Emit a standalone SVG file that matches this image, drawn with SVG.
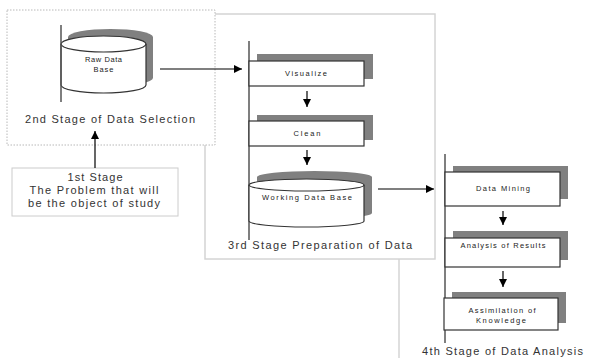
<svg xmlns="http://www.w3.org/2000/svg" width="596" height="358" viewBox="0 0 596 358">
<defs>
<marker id="ah" viewBox="0 0 10 10" refX="10" refY="5" markerWidth="8" markerHeight="8" markerUnits="userSpaceOnUse" orient="auto">
<path d="M0,0 L10,5 L0,10 z" fill="#000"/>
</marker>
<style>
.stage{fill:#fff;stroke:#d4d4d4;stroke-width:1.5}
.dotted{fill:#fff;stroke:#b8b8b8;stroke-width:1;stroke-dasharray:1.5 1.5}
.box{fill:#fff;stroke:#333;stroke-width:1.2}
.shadow{fill:#808080;stroke:none}
.bar{stroke:#555;stroke-width:1.5;fill:none}
.conn{stroke:#000;stroke-width:1.2;fill:none;marker-end:url(#ah)}
.big{font-family:"Liberation Sans",Arial,sans-serif;font-size:11px;fill:#333}
.small{font-family:"Liberation Sans",Arial,sans-serif;font-size:7.5px;fill:#222;text-anchor:middle}
.mid{text-anchor:middle}
</style>
</defs>

<!-- stage frames -->
<g id="stage4">
<path d="M399,250 V358" stroke="#d4d4d4" stroke-width="1.5" fill="none"/>
<text class="big" x="422" y="355" textLength="161" lengthAdjust="spacing">4th Stage of Data Analysis</text>
</g>
<g id="stage3">
<rect class="stage" x="205" y="14" width="230" height="245"/>
<text class="big" x="228" y="249" textLength="184" lengthAdjust="spacing">3rd Stage Preparation of Data</text>
</g>
<g id="stage2">
<rect class="dotted" x="7" y="10" width="208" height="135"/>
<text class="big" x="25" y="123" textLength="170" lengthAdjust="spacing">2nd Stage of Data Selection</text>
</g>

<g id="stage1">
<rect x="12" y="168" width="166" height="48" fill="#fff" stroke="#ccc" stroke-width="1"/>
<text class="big mid" x="95" y="181" textLength="55" lengthAdjust="spacing">1st Stage</text>
<text class="big mid" x="94" y="194" textLength="129" lengthAdjust="spacing">The Problem that will</text>
<text class="big mid" x="94" y="207" textLength="132" lengthAdjust="spacing">be the object of study</text>
</g>

<!-- Raw Data Base -->
<g id="rawdb">
<path class="shadow" d="M68,37 A42.5,8 0 0 1 153,37 V78 A42.5,8 0 0 1 68,78 Z"/>
<path class="box" d="M61,44 A42.5,8 0 0 1 146,44 V85 A42.5,8 0 0 1 61,85 Z"/>
<path d="M61,44 A42.5,8 0 0 0 146,44" fill="none" stroke="#333" stroke-width="1.2"/>
<path class="bar" d="M61,25 V102"/>
<text class="small" x="103.5" y="62" textLength="37" lengthAdjust="spacing">Raw Data</text>
<text class="small" x="103.5" y="72" textLength="20" lengthAdjust="spacing">Base</text>
</g>

<!-- Stage 3 internals -->
<g id="stage3bar"><path class="bar" d="M249,41 V240"/></g>
<g id="visualize">
<rect class="shadow" x="257" y="54" width="116" height="25"/>
<rect class="box" x="249" y="61" width="115" height="25"/>
<text class="small" x="306" y="76" textLength="42" lengthAdjust="spacing">Visualize</text>
</g>
<g id="clean">
<rect class="shadow" x="257" y="115" width="116" height="25"/>
<rect class="box" x="249" y="121" width="115" height="25"/>
<text class="small" x="307" y="136" textLength="27" lengthAdjust="spacing">Clean</text>
</g>
<g id="workingdb">
<path class="shadow" d="M257,177 A57.5,6 0 0 1 372,177 V213 A57.5,6 0 0 1 257,213 Z"/>
<path class="box" d="M249,185 A57.5,6 0 0 1 364,185 V221 A57.5,6 0 0 1 249,221 Z"/>
<path d="M249,185 A57.5,6 0 0 0 364,185" fill="none" stroke="#333" stroke-width="1.2"/>
<text class="small" x="307" y="200" textLength="90" lengthAdjust="spacing">Working Data Base</text>
</g>

<!-- Stage 4 internals -->
<g id="stage4bar"><path class="bar" d="M445,154 V343"/></g>
<g id="datamining">
<rect class="shadow" x="453" y="166" width="115" height="33"/>
<rect class="box" x="445" y="172" width="115" height="34"/>
<text class="small" x="503" y="191" textLength="54" lengthAdjust="spacing">Data Mining</text>
</g>
<g id="analysis">
<rect class="shadow" x="453" y="231" width="115" height="29"/>
<rect class="box" x="445" y="238" width="115" height="29"/>
<text class="small" x="503" y="248" textLength="85" lengthAdjust="spacing">Analysis of Results</text>
</g>
<g id="assimilation">
<rect class="shadow" x="452" y="292" width="114" height="31"/>
<rect class="box" x="444" y="298" width="114" height="32"/>
<text class="small" x="502" y="313" textLength="67" lengthAdjust="spacing">Assimilation of</text>
<text class="small" x="501" y="323" textLength="50" lengthAdjust="spacing">Knowledge</text>
</g>

<!-- connectors -->
<g id="connectors">
<path class="conn" d="M95,168 V131"/>
<path class="conn" d="M160,69 H242"/>
<path class="conn" d="M307,91 V107"/>
<path class="conn" d="M307,150 V165"/>
<path class="conn" d="M378,189 H434"/>
<path class="conn" d="M503,211 V225"/>
<path class="conn" d="M503,271 V287"/>
</g>
</svg>
